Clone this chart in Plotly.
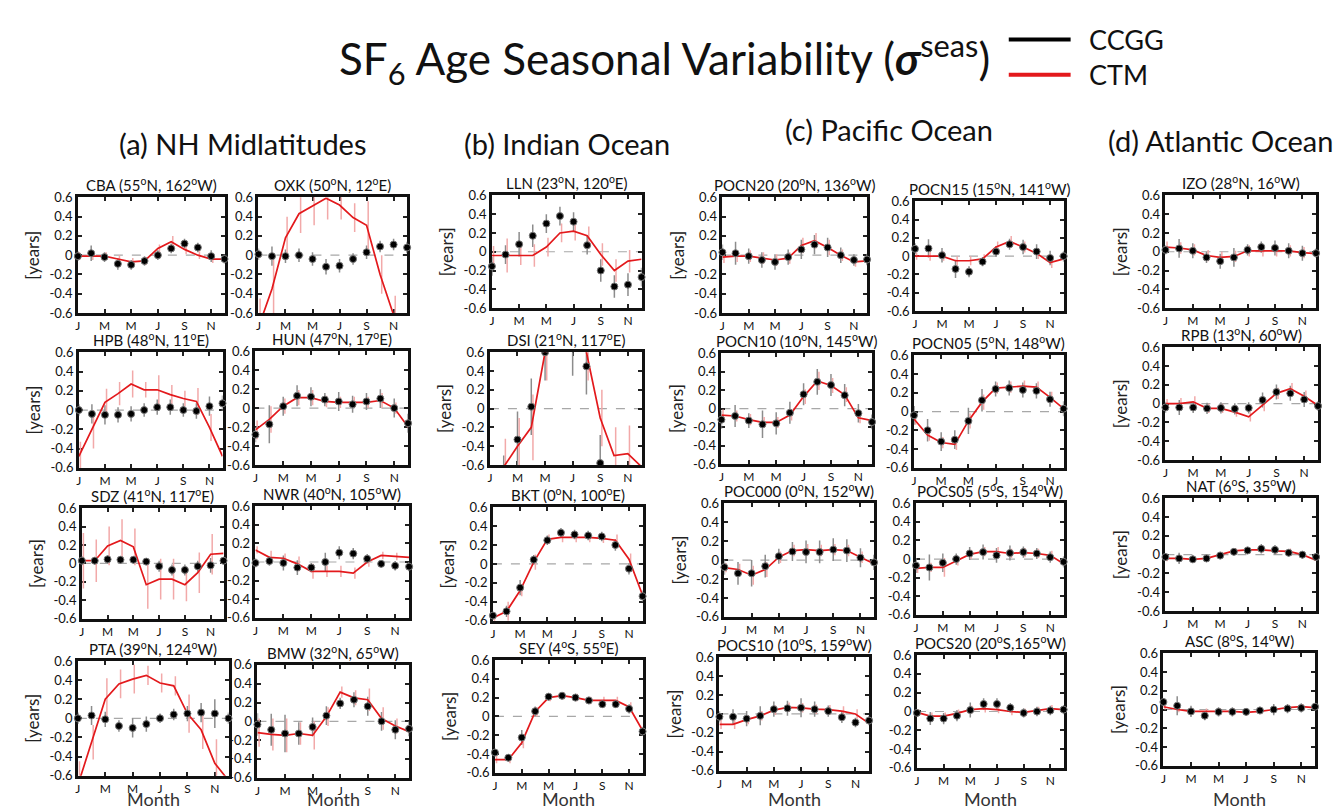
import plotly.graph_objects as go

W, H = 1341, 810
months = list(range(1, 13))
month_ticks = [1, 3, 5, 7, 9, 11]
month_labels = ["J", "M", "M", "J", "S", "N"]
y_ticks = [0.6, 0.4, 0.2, 0, -0.2, -0.4, -0.6]
y_labels = ["0.6", "0.4", "0.2", "0", "-0.2", "-0.4", "-0.6"]

# ---- (a) NH Midlatitudes ----
cba_ccgg = [-0.01, 0.02, -0.02, -0.09, -0.10, -0.06, 0.00, 0.07, 0.12, 0.08, -0.01, -0.04]
cba_ccgg_err = [0.05, 0.08, 0.05, 0.06, 0.05, 0.05, 0.05, 0.05, 0.05, 0.05, 0.06, 0.05]
cba_ctm = [-0.01, -0.01, -0.01, -0.04, -0.07, -0.06, 0.07, 0.14, 0.06, 0.00, -0.04, -0.04]
cba_ctm_err = [0.04, 0.04, 0.04, 0.04, 0.04, 0.04, 0.04, 0.06, 0.05, 0.04, 0.04, 0.04]

oxk_ccgg = [0.01, -0.01, -0.01, 0.00, -0.04, -0.12, -0.11, -0.04, 0.03, 0.09, 0.11, 0.08]
oxk_ccgg_err = [0.06, 0.10, 0.07, 0.07, 0.07, 0.08, 0.07, 0.06, 0.07, 0.06, 0.06, 0.06]
oxk_ctm = [-0.75, -0.35, 0.18, 0.43, 0.51, 0.59, 0.52, 0.39, 0.31, -0.20, -0.62, -0.90]
oxk_ctm_err = [0.30, 0.30, 0.22, 0.20, 0.20, 0.22, 0.15, 0.15, 0.25, 0.20, 0.20, 0.20]

hpb_ccgg = [0.00, -0.04, -0.05, -0.05, -0.04, 0.00, 0.03, 0.03, 0.00, -0.01, 0.04, 0.07]
hpb_ccgg_err = [0.06, 0.10, 0.10, 0.08, 0.08, 0.07, 0.08, 0.08, 0.07, 0.08, 0.10, 0.08]
hpb_ctm = [-0.48, -0.20, 0.08, 0.17, 0.27, 0.21, 0.21, 0.16, 0.12, 0.09, -0.18, -0.48]
hpb_ctm_err = [0.15, 0.20, 0.14, 0.12, 0.14, 0.08, 0.15, 0.10, 0.08, 0.14, 0.14, 0.10]

hun_ccgg = [-0.28, -0.17, 0.02, 0.13, 0.12, 0.09, 0.07, 0.04, 0.07, 0.10, 0.00, -0.16]
hun_ccgg_err = [0.08, 0.20, 0.10, 0.11, 0.10, 0.07, 0.10, 0.09, 0.09, 0.10, 0.10, 0.10]
hun_ctm = [-0.23, -0.12, 0.02, 0.11, 0.11, 0.07, 0.06, 0.06, 0.06, 0.08, 0.00, -0.20]
hun_ctm_err = [0.10, 0.14, 0.08, 0.08, 0.08, 0.06, 0.06, 0.06, 0.06, 0.08, 0.06, 0.06]

sdz_ccgg = [0.03, 0.03, 0.045, 0.04, 0.04, 0.02, -0.03, -0.07, -0.07, -0.03, -0.02, 0.03]
sdz_ccgg_err = [0.05, 0.04, 0.04, 0.04, 0.04, 0.04, 0.06, 0.06, 0.06, 0.06, 0.08, 0.04]
sdz_ctm = [0.03, 0.03, 0.19, 0.25, 0.18, -0.23, -0.17, -0.17, -0.23, -0.10, 0.10, 0.11]
sdz_ctm_err = [0.30, 0.23, 0.21, 0.23, 0.20, 0.26, 0.22, 0.22, 0.18, 0.22, 0.22, 0.10]

nwr_ccgg = [-0.01, 0.01, -0.01, -0.06, -0.06, 0.00, 0.10, 0.09, 0.035, -0.02, -0.04, -0.05]
nwr_ccgg_err = [0.05, 0.05, 0.08, 0.08, 0.05, 0.10, 0.07, 0.06, 0.05, 0.04, 0.05, 0.05]
nwr_ctm = [0.13, 0.05, 0.04, -0.02, -0.10, -0.10, -0.10, -0.12, 0.00, 0.07, 0.06, 0.05]
nwr_ctm_err = [0.04, 0.07, 0.05, 0.08, 0.08, 0.06, 0.06, 0.06, 0.05, 0.04, 0.04, 0.04]

pta_ccgg = [0.00, 0.03, -0.01, -0.08, -0.10, -0.06, 0.00, 0.04, 0.05, 0.06, 0.05, 0.00]
pta_ccgg_err = [0.06, 0.10, 0.08, 0.06, 0.10, 0.08, 0.05, 0.06, 0.08, 0.10, 0.15, 0.06]
pta_ctm = [-0.70, -0.25, 0.20, 0.36, 0.41, 0.45, 0.37, 0.34, 0.05, -0.12, -0.47, -0.65]
pta_ctm_err = [0.25, 0.18, 0.22, 0.15, 0.15, 0.10, 0.10, 0.10, 0.20, 0.20, 0.25, 0.20]

bmw_ccgg = [-0.035, -0.09, -0.13, -0.13, -0.06, 0.06, 0.19, 0.23, 0.16, 0.00, -0.09, -0.08]
bmw_ccgg_err = [0.12, 0.17, 0.20, 0.12, 0.10, 0.10, 0.06, 0.08, 0.10, 0.10, 0.10, 0.08]
bmw_ctm = [-0.12, -0.14, -0.15, -0.13, -0.15, 0.05, 0.31, 0.25, 0.23, 0.03, -0.05, -0.11]
bmw_ctm_err = [0.15, 0.17, 0.18, 0.12, 0.15, 0.10, 0.06, 0.08, 0.12, 0.12, 0.08, 0.06]

# ---- (b) Indian Ocean ----
lln_ccgg = [-0.155, -0.03, 0.08, 0.17, 0.30, 0.38, 0.32, 0.07, -0.20, -0.37, -0.35, -0.27]
lln_ccgg_err = [0.10, 0.10, 0.13, 0.12, 0.10, 0.10, 0.10, 0.10, 0.12, 0.12, 0.12, 0.10]
lln_ctm = [-0.04, -0.04, -0.04, -0.04, 0.05, 0.20, 0.22, 0.17, -0.03, -0.20, -0.10, -0.08]
lln_ctm_err = [0.10, 0.18, 0.10, 0.12, 0.10, 0.10, 0.10, 0.10, 0.12, 0.12, 0.12, 0.10]

dsi_ccgg = [-0.90, -0.80, -0.33, 0.02, 0.60, 0.95, 0.65, 0.45, -0.58, -0.90, -0.90, -0.90]
dsi_ccgg_err = [0.30, 0.30, 0.30, 0.30, 0.30, 0.30, 0.30, 0.30, 0.30, 0.30, 0.30, 0.30]
dsi_ctm = [-0.90, -0.62, -0.40, -0.20, 0.60, 0.95, 0.95, 0.60, -0.10, -0.50, -0.48, -0.62]
dsi_ctm_err = [0.30, 0.30, 0.30, 0.35, 0.30, 0.30, 0.30, 0.30, 0.30, 0.30, 0.30, 0.30]

bkt_ccgg = [-0.545, -0.50, -0.25, 0.045, 0.25, 0.33, 0.31, 0.30, 0.29, 0.20, -0.05, -0.34]
bkt_ccgg_err = [0.04, 0.06, 0.08, 0.05, 0.05, 0.05, 0.05, 0.05, 0.05, 0.06, 0.06, 0.06]
bkt_ctm = [-0.57, -0.50, -0.28, 0.02, 0.26, 0.28, 0.28, 0.28, 0.27, 0.25, 0.05, -0.33]
bkt_ctm_err = [0.04, 0.10, 0.06, 0.08, 0.05, 0.05, 0.05, 0.05, 0.05, 0.06, 0.06, 0.06]

sey_ccgg = [-0.385, -0.44, -0.225, 0.055, 0.21, 0.22, 0.20, 0.17, 0.13, 0.13, 0.08, -0.16]
sey_ccgg_err = [0.04, 0.04, 0.08, 0.05, 0.04, 0.04, 0.04, 0.04, 0.04, 0.04, 0.05, 0.05]
sey_ctm = [-0.46, -0.46, -0.28, 0.05, 0.20, 0.22, 0.20, 0.17, 0.17, 0.17, 0.10, -0.15]
sey_ctm_err = [0.04, 0.04, 0.06, 0.05, 0.04, 0.04, 0.04, 0.04, 0.04, 0.04, 0.05, 0.05]

# ---- (c) Pacific Ocean ----
pocn20_ccgg = [0.03, 0.02, -0.01, -0.05, -0.07, -0.02, 0.06, 0.11, 0.08, 0.00, -0.05, -0.045]
pocn20_ccgg_err = [0.08, 0.12, 0.08, 0.08, 0.08, 0.08, 0.10, 0.10, 0.10, 0.08, 0.06, 0.06]
pocn20_ctm = [-0.02, -0.01, -0.01, -0.03, -0.05, -0.03, 0.10, 0.15, 0.08, 0.00, -0.07, -0.06]
pocn20_ctm_err = [0.06, 0.06, 0.06, 0.06, 0.06, 0.06, 0.08, 0.08, 0.08, 0.06, 0.05, 0.05]

pocn15_ccgg = [0.08, 0.085, 0.01, -0.14, -0.17, -0.06, 0.05, 0.13, 0.10, 0.05, -0.02, 0.00]
pocn15_ccgg_err = [0.06, 0.10, 0.08, 0.10, 0.06, 0.05, 0.06, 0.06, 0.08, 0.08, 0.08, 0.06]
pocn15_ctm = [0.00, 0.00, 0.00, -0.05, -0.05, -0.03, 0.10, 0.16, 0.10, 0.03, -0.07, -0.03]
pocn15_ctm_err = [0.04, 0.05, 0.05, 0.05, 0.05, 0.05, 0.06, 0.06, 0.06, 0.06, 0.06, 0.05]

pocn10_ccgg = [-0.12, -0.08, -0.13, -0.17, -0.16, -0.045, 0.155, 0.29, 0.255, 0.145, -0.05, -0.145]
pocn10_ccgg_err = [0.10, 0.12, 0.08, 0.15, 0.12, 0.12, 0.12, 0.14, 0.12, 0.12, 0.10, 0.08]
pocn10_ctm = [-0.07, -0.08, -0.12, -0.15, -0.15, -0.07, 0.13, 0.30, 0.25, 0.15, -0.10, -0.13]
pocn10_ctm_err = [0.06, 0.06, 0.06, 0.06, 0.06, 0.06, 0.08, 0.10, 0.08, 0.08, 0.06, 0.06]

pocn05_ccgg = [-0.04, -0.20, -0.32, -0.30, -0.10, 0.12, 0.24, 0.25, 0.23, 0.22, 0.13, 0.03]
pocn05_ccgg_err = [0.10, 0.12, 0.10, 0.10, 0.14, 0.12, 0.08, 0.08, 0.08, 0.08, 0.08, 0.08]
pocn05_ctm = [-0.08, -0.25, -0.33, -0.35, -0.10, 0.10, 0.25, 0.26, 0.27, 0.26, 0.15, 0.03]
pocn05_ctm_err = [0.06, 0.06, 0.06, 0.06, 0.08, 0.08, 0.06, 0.06, 0.06, 0.06, 0.06, 0.06]

poc000_ccgg = [-0.075, -0.14, -0.14, -0.065, 0.04, 0.09, 0.085, 0.085, 0.11, 0.10, 0.025, -0.025]
poc000_ccgg_err = [0.08, 0.12, 0.14, 0.12, 0.08, 0.10, 0.12, 0.12, 0.12, 0.12, 0.10, 0.08]
poc000_ctm = [-0.08, -0.10, -0.16, -0.10, 0.03, 0.10, 0.11, 0.10, 0.11, 0.10, 0.03, -0.04]
poc000_ctm_err = [0.05, 0.06, 0.10, 0.08, 0.06, 0.06, 0.06, 0.06, 0.06, 0.06, 0.06, 0.05]

pocs05_ccgg = [-0.07, -0.09, -0.04, 0.00, 0.06, 0.075, 0.04, 0.065, 0.075, 0.06, 0.02, -0.03]
pocs05_ccgg_err = [0.08, 0.14, 0.10, 0.06, 0.07, 0.08, 0.08, 0.08, 0.06, 0.06, 0.06, 0.06]
pocs05_ctm = [-0.10, -0.09, -0.09, -0.02, 0.05, 0.08, 0.08, 0.06, 0.07, 0.06, 0.04, -0.05]
pocs05_ctm_err = [0.05, 0.05, 0.10, 0.05, 0.05, 0.05, 0.05, 0.05, 0.05, 0.05, 0.05, 0.05]

pocs10_ccgg = [-0.03, -0.03, -0.05, -0.02, 0.05, 0.06, 0.065, 0.05, 0.03, -0.035, -0.09, -0.07]
pocs10_ccgg_err = [0.06, 0.08, 0.08, 0.10, 0.08, 0.08, 0.10, 0.08, 0.06, 0.06, 0.05, 0.05]
pocs10_ctm = [-0.11, -0.11, -0.06, -0.02, 0.04, 0.07, 0.065, 0.05, 0.045, 0.03, 0.00, -0.10]
pocs10_ctm_err = [0.05, 0.05, 0.05, 0.05, 0.05, 0.05, 0.05, 0.05, 0.05, 0.05, 0.05, 0.05]

pocs20_ccgg = [-0.015, -0.075, -0.075, -0.045, 0.015, 0.08, 0.08, 0.04, -0.015, 0.00, 0.01, 0.02]
pocs20_ccgg_err = [0.04, 0.07, 0.06, 0.06, 0.08, 0.06, 0.06, 0.05, 0.05, 0.05, 0.05, 0.05]
pocs20_ctm = [-0.01, -0.05, -0.05, -0.02, 0.02, 0.03, 0.02, 0.00, -0.01, 0.01, 0.03, 0.02]
pocs20_ctm_err = [0.03, 0.04, 0.04, 0.04, 0.04, 0.04, 0.04, 0.04, 0.04, 0.04, 0.04, 0.04]

# ---- (d) Atlantic Ocean ----
izo_ccgg = [0.02, 0.035, 0.01, -0.06, -0.10, -0.06, 0.02, 0.05, 0.04, 0.01, -0.015, -0.015]
izo_ccgg_err = [0.05, 0.10, 0.08, 0.06, 0.08, 0.10, 0.06, 0.06, 0.08, 0.08, 0.08, 0.05]
izo_ctm = [0.05, 0.04, 0.02, -0.04, -0.06, -0.05, 0.01, 0.01, 0.01, 0.01, -0.01, -0.02]
izo_ctm_err = [0.06, 0.06, 0.06, 0.06, 0.06, 0.06, 0.06, 0.06, 0.06, 0.06, 0.06, 0.05]

rpb_ccgg = [-0.04, -0.04, -0.04, -0.05, -0.045, -0.055, -0.045, 0.04, 0.125, 0.11, 0.045, -0.025]
rpb_ccgg_err = [0.06, 0.08, 0.06, 0.06, 0.06, 0.06, 0.06, 0.08, 0.08, 0.08, 0.08, 0.05]
rpb_ctm = [0.00, 0.00, 0.02, -0.05, -0.05, -0.09, -0.14, -0.02, 0.11, 0.16, 0.08, -0.02]
rpb_ctm_err = [0.05, 0.06, 0.06, 0.05, 0.05, 0.05, 0.05, 0.06, 0.06, 0.06, 0.06, 0.05]

nat_ccgg = [-0.025, -0.04, -0.05, -0.04, -0.01, 0.03, 0.045, 0.063, 0.052, 0.02, 0.00, -0.025]
nat_ccgg_err = [0.04, 0.06, 0.04, 0.04, 0.04, 0.04, 0.04, 0.05, 0.05, 0.04, 0.04, 0.04]
nat_ctm = [-0.04, -0.04, -0.05, -0.04, 0.00, 0.04, 0.05, 0.05, 0.04, 0.035, 0.00, -0.06]
nat_ctm_err = [0.03, 0.03, 0.03, 0.03, 0.03, 0.03, 0.03, 0.03, 0.03, 0.03, 0.03, 0.03]

asc_ccgg = [0.08, 0.04, -0.02, -0.065, -0.025, -0.025, -0.025, -0.01, 0.00, 0.01, 0.017, 0.03]
asc_ccgg_err = [0.04, 0.10, 0.06, 0.05, 0.05, 0.05, 0.04, 0.04, 0.06, 0.05, 0.05, 0.04]
asc_ctm = [0.03, 0.00, -0.02, -0.02, -0.02, -0.02, -0.03, -0.02, 0.00, 0.02, 0.03, 0.02]
asc_ctm_err = [0.03, 0.03, 0.03, 0.03, 0.03, 0.03, 0.03, 0.03, 0.03, 0.03, 0.03, 0.03]

# panel layout: title, data, box pixel coords (x0, x1, ytop, ybottom), show [years], show Month
panels = [
    ("CBA (55<sup>o</sup>N, 162<sup>o</sup>W)", cba_ccgg, cba_ccgg_err, cba_ctm, cba_ctm_err, (67, 214, 185, 303), True, False),
    ("HPB (48<sup>o</sup>N, 11<sup>o</sup>E)", hpb_ccgg, hpb_ccgg_err, hpb_ctm, hpb_ctm_err, (68, 212, 343, 461), True, False),
    ("SDZ (41<sup>o</sup>N, 117<sup>o</sup>E)", sdz_ccgg, sdz_ccgg_err, sdz_ctm, sdz_ctm_err, (71, 213, 502, 615), True, False),
    ("PTA (39<sup>o</sup>N, 124<sup>o</sup>W)", pta_ccgg, pta_ccgg_err, pta_ctm, pta_ctm_err, (67, 218, 658, 775), True, True),
    ("OXK (50<sup>o</sup>N, 12<sup>o</sup>E)", oxk_ccgg, oxk_ccgg_err, oxk_ctm, oxk_ctm_err, (248, 397, 185, 303), False, False),
    ("HUN (47<sup>o</sup>N, 17<sup>o</sup>E)", hun_ccgg, hun_ccgg_err, hun_ctm, hun_ctm_err, (245, 398, 342, 458), False, False),
    ("NWR (40<sup>o</sup>N, 105<sup>o</sup>W)", nwr_ccgg, nwr_ccgg_err, nwr_ctm, nwr_ctm_err, (245, 399, 500, 614), False, False),
    ("BMW (32<sup>o</sup>N, 65<sup>o</sup>W)", bmw_ccgg, bmw_ccgg_err, bmw_ctm, bmw_ctm_err, (247, 399, 662, 777), False, True),
    ("LLN (23<sup>o</sup>N, 120<sup>o</sup>E)", lln_ccgg, lln_ccgg_err, lln_ctm, lln_ctm_err, (482, 632, 183, 298), True, False),
    ("DSI (21<sup>o</sup>N, 117<sup>o</sup>E)", dsi_ccgg, dsi_ccgg_err, dsi_ctm, dsi_ctm_err, (480, 632, 343, 458), True, False),
    ("BKT (0<sup>o</sup>N, 100<sup>o</sup>E)", bkt_ccgg, bkt_ccgg_err, bkt_ctm, bkt_ctm_err, (483, 633, 501, 617), True, False),
    ("SEY (4<sup>o</sup>S, 55<sup>o</sup>E)", sey_ccgg, sey_ccgg_err, sey_ctm, sey_ctm_err, (485, 633, 657, 772), True, True),
    ("POCN20 (20<sup>o</sup>N, 136<sup>o</sup>W)", pocn20_ccgg, pocn20_ccgg_err, pocn20_ctm, pocn20_ctm_err, (713, 858, 185, 303), True, False),
    ("POCN10 (10<sup>o</sup>N, 145<sup>o</sup>W)", pocn10_ccgg, pocn10_ccgg_err, pocn10_ctm, pocn10_ctm_err, (712, 863, 344, 457), True, False),
    ("POC000 (0<sup>o</sup>N, 152<sup>o</sup>W)", poc000_ccgg, poc000_ccgg_err, poc000_ctm, poc000_ctm_err, (715, 865, 497, 613), True, False),
    ("POCS10 (10<sup>o</sup>S, 159<sup>o</sup>W)", pocs10_ccgg, pocs10_ccgg_err, pocs10_ctm, pocs10_ctm_err, (710, 860, 654, 770), True, True),
    ("POCN15 (15<sup>o</sup>N, 141<sup>o</sup>W)", pocn15_ccgg, pocn15_ccgg_err, pocn15_ctm, pocn15_ctm_err, (906, 1055, 189, 301), False, False),
    ("POCN05 (5<sup>o</sup>N, 148<sup>o</sup>W)", pocn05_ccgg, pocn05_ccgg_err, pocn05_ctm, pocn05_ctm_err, (905, 1055, 346, 461), False, False),
    ("POCS05 (5<sup>o</sup>S, 154<sup>o</sup>W)", pocs05_ccgg, pocs05_ccgg_err, pocs05_ctm, pocs05_ctm_err, (907, 1055, 497, 611), False, False),
    ("POCS20 (20<sup>o</sup>S,165<sup>o</sup>W)", pocs20_ccgg, pocs20_ccgg_err, pocs20_ctm, pocs20_ctm_err, (908, 1055, 652, 767), False, True),
    ("IZO (28<sup>o</sup>N, 16<sup>o</sup>W)", izo_ccgg, izo_ccgg_err, izo_ctm, izo_ctm_err, (1157, 1308, 183, 298), True, False),
    ("RPB (13<sup>o</sup>N, 60<sup>o</sup>W)", rpb_ccgg, rpb_ccgg_err, rpb_ctm, rpb_ctm_err, (1157, 1310, 338, 453), True, False),
    ("NAT (6<sup>o</sup>S, 35<sup>o</sup>W)", nat_ccgg, nat_ccgg_err, nat_ctm, nat_ctm_err, (1157, 1308, 492, 607), True, False),
    ("ASC (8<sup>o</sup>S, 14<sup>o</sup>W)", asc_ccgg, asc_ccgg_err, asc_ctm, asc_ctm_err, (1155, 1307, 650, 765), True, True),
]

FONT = "Lato"
GRAY_ERR = "#8c8c8c"
PINK_ERR = "#f2a9a9"
RED = "#e3191c"

fig = go.Figure()
layout = dict(
    width=W, height=H, margin=dict(l=0, r=0, t=0, b=0),
    paper_bgcolor="white", plot_bgcolor="white", showlegend=False,
    font=dict(family=FONT, color="#111"),
)
annotations = []
shapes = []

def px_x(x):
    return x / W

def px_y(y):
    return 1 - y / H

for i, (title, cc, cce, ct, cte, box, ylab, mlab) in enumerate(panels):
    n = i + 1
    xs = "" if n == 1 else str(n)
    xa, ya = "x" + xs, "y" + xs
    x0, x1, yt, yb = box
    layout["xaxis" + xs] = dict(
        domain=[px_x(x0), px_x(x1)], anchor=ya, range=[1, 12],
        tickvals=month_ticks, ticktext=month_labels, ticks="inside", ticklen=4,
        tickwidth=1.5, tickcolor="#222", showline=True, linewidth=2.5, linecolor="#111",
        mirror="ticks", showgrid=False, zeroline=False, layer="below traces",
        tickfont=dict(family=FONT, size=12, color="#111"),
    )
    yax = dict(
        domain=[px_y(yb), px_y(yt)], anchor=xa, range=[-0.6, 0.6],
        tickvals=y_ticks, ticktext=y_labels, ticks="inside", ticklen=4,
        tickwidth=1.5, tickcolor="#222", showline=True, linewidth=2.5, linecolor="#111",
        mirror="ticks", showgrid=False, zeroline=False, layer="below traces",
        tickfont=dict(family=FONT, size=13, color="#111"),
    )
    if ylab:
        yax["title"] = dict(text="[years]", font=dict(family=FONT, size=17, color="#222"), standoff=6)
    layout["yaxis" + xs] = yax
    # zero reference line
    shapes.append(dict(type="line", xref=xa + " domain", yref=ya, x0=0, x1=1, y0=0, y1=0,
                       line=dict(color="#a8a8a8", width=1.2, dash="dash"), layer="below"))
    # CCGG error bars
    fig.add_trace(go.Scatter(x=months, y=cc, mode="markers", xaxis=xa, yaxis=ya,
                             marker=dict(size=1, color="rgba(0,0,0,0)"),
                             error_y=dict(type="data", array=cce, color=GRAY_ERR, thickness=1.5, width=0),
                             cliponaxis=True, hoverinfo="skip"))
    # CTM error bars (slightly offset to the right, as in the original)
    fig.add_trace(go.Scatter(x=[m + 0.12 for m in months], y=ct, mode="markers", xaxis=xa, yaxis=ya,
                             marker=dict(size=1, color="rgba(0,0,0,0)"),
                             error_y=dict(type="data", array=cte, color=PINK_ERR, thickness=1.5, width=0),
                             cliponaxis=True, hoverinfo="skip"))
    # CTM line
    fig.add_trace(go.Scatter(x=months, y=ct, mode="lines", xaxis=xa, yaxis=ya,
                             line=dict(color=RED, width=1.7), name="CTM"))
    # CCGG points
    inside = all(-0.6 <= v <= 0.6 for v in cc)
    fig.add_trace(go.Scatter(x=months, y=cc, mode="markers", xaxis=xa, yaxis=ya,
                             marker=dict(size=7, color="#000", line=dict(color="#777", width=1)),
                             cliponaxis=not inside, name="CCGG"))
    # panel title
    annotations.append(dict(text=title, x=(px_x(x0) + px_x(x1)) / 2, y=px_y(yt), xref="paper", yref="paper",
                            xanchor="center", yanchor="bottom", yshift=1, showarrow=False,
                            font=dict(family=FONT, size=15, color="#111")))
    if mlab:
        annotations.append(dict(text="Month", x=(px_x(x0) + px_x(x1)) / 2, y=0, xref="paper", yref="paper",
                                xanchor="center", yanchor="bottom", yshift=-2, showarrow=False,
                                font=dict(family=FONT, size=18, color="#333")))

# section headers
headers = [("(a) NH Midlatitudes", 232, 130), ("(b) Indian Ocean", 557, 130),
           ("(c) Pacific Ocean", 880, 116), ("(d) Atlantic Ocean", 1212, 127)]
for txt, hx, hy in headers:
    annotations.append(dict(text=txt, x=px_x(hx), y=px_y(hy), xref="paper", yref="paper",
                            xanchor="center", yanchor="middle", showarrow=False,
                            font=dict(family=FONT, size=29, color="#111")))

# main title
annotations.append(dict(text="SF<sub>6</sub> Age Seasonal Variability (<b><i>σ</i></b><sup>seas</sup>)",
                        x=px_x(655), y=px_y(44), xref="paper", yref="paper", xanchor="center", yanchor="middle",
                        showarrow=False, font=dict(family=FONT, size=44, color="#111")))

# legend
for txt, col, ly in [("CCGG", "#000", 24), ("CTM", RED, 60)]:
    shapes.append(dict(type="line", xref="paper", yref="paper", x0=px_x(1000), x1=px_x(1062),
                       y0=px_y(ly), y1=px_y(ly), line=dict(color=col, width=4)))
    annotations.append(dict(text=txt, x=px_x(1078), y=px_y(ly), xref="paper", yref="paper",
                            xanchor="left", yanchor="middle", showarrow=False,
                            font=dict(family=FONT, size=27, color="#111")))

layout["annotations"] = annotations
layout["shapes"] = shapes
fig.update_layout(**layout)
fig.write_html("out.html")
